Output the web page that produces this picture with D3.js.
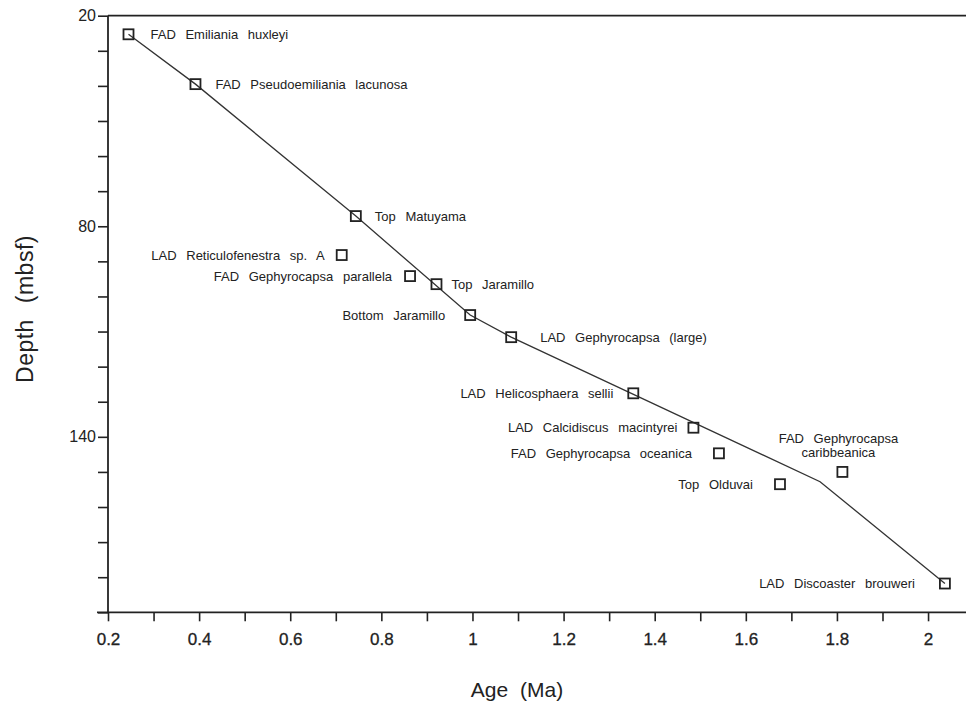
<!DOCTYPE html>
<html><head><meta charset="utf-8">
<script src="https://cdn.jsdelivr.net/npm/d3@7"></script>
<style>
body{margin:0;background:#fff;}
svg text{font-family:"Liberation Sans",Arial,Helvetica,sans-serif;fill:#222;}
</style></head>
<body>
<svg id="chart" width="966" height="705"></svg>
<script>
// datums
const datumNames = [
  "FAD Emiliania huxleyi",
  "FAD Pseudoemiliania lacunosa",
  "Top Matuyama",
  "LAD Reticulofenestra sp. A",
  "FAD Gephyrocapsa parallela",
  "Top Jaramillo",
  "Bottom Jaramillo",
  "LAD Gephyrocapsa (large)",
  "LAD Helicosphaera sellii",
  "LAD Calcidiscus macintyrei",
  "FAD Gephyrocapsa oceanica",
  "Top Olduvai",
  "FAD Gephyrocapsa caribbeanica",
  "LAD Discoaster brouweri"
];
const datumAges   = [0.245, 0.392, 0.744, 0.713, 0.863, 0.921, 0.995, 1.085, 1.353, 1.485, 1.541, 1.675, 1.812, 2.037];
const datumDepths = [25.3, 39.5, 77.1, 88.2, 94.2, 96.5, 105.3, 111.6, 127.6, 137.4, 144.7, 153.5, 150.0, 181.8];
// label side: "r" right, "l" left, "t" above (two lines)
const labelSides  = ["r","r","r","l","l","r","l","r","l","l","l","l","t","l"];

// age-depth (sedimentation rate) line
const lineAges   = [0.245, 0.392, 0.744, 0.995, 1.085, 1.763, 2.037];
const lineDepths = [25.3, 39.5, 77.1, 105.3, 111.6, 152.8, 181.8];

const xTicks = [0.2,0.3,0.4,0.5,0.6,0.7,0.8,0.9,1.0,1.1,1.2,1.3,1.4,1.5,1.6,1.7,1.8,1.9,2.0];
const xTickLabels = [0.2,0.4,0.6,0.8,1.0,1.2,1.4,1.6,1.8,2.0];
const yTicks = [20,30,40,50,60,70,80,90,100,110,120,130,140,150,160,170,180,190];
const yTickLabels = [20,80,140];

// layout only: horizontal gap between marker centre and its label (px)
const labelGap = [22, 20, 19, 17, 18, 15, 25, 29, 20, 16, 27, 27, 0, 30];

const svg = d3.select("#chart");
const x = d3.scaleLinear().domain([0.2, 2.0833]).range([108, 966]);
const y = d3.scaleLinear().domain([20, 190]).range([15.7, 612.3]);

const ink = "#222";

// top line
svg.append("line").attr("x1", x(0.2)).attr("x2", 966)
  .attr("y1", y(20)).attr("y2", y(20)).attr("stroke", ink).attr("stroke-width", 1.8);

// x axis
const xAxis = svg.append("g").attr("transform", `translate(0,${y(190)})`)
  .call(d3.axisBottom(x).tickValues(xTicks).tickSize(9).tickPadding(12)
    .tickFormat(d => xTickLabels.some(v => Math.abs(v - d) < 1e-9) ? d3.format("")(+d.toFixed(1)) : ""));
xAxis.select(".domain").remove();
svg.append("line").attr("x1", 97).attr("x2", 966).attr("y1", y(190)).attr("y2", y(190))
  .attr("stroke", ink).attr("stroke-width", 1.8);
xAxis.selectAll("line").attr("stroke", ink).attr("stroke-width", 1.6);
xAxis.selectAll("text").attr("font-size", 17).style("fill", ink)
  .attr("font-family", "Liberation Sans, Arial, sans-serif")
  .style("stroke", ink).style("stroke-width", 0.3);

// y axis
const yAxis = svg.append("g").attr("transform", `translate(${x(0.2)},0)`)
  .call(d3.axisLeft(y).tickValues(yTicks).tickSize(10).tickPadding(2)
    .tickFormat(d => yTickLabels.includes(d) ? d : ""));
yAxis.select(".domain").remove();
svg.append("line").attr("x1", x(0.2)).attr("x2", x(0.2)).attr("y1", y(20)).attr("y2", y(190))
  .attr("stroke", ink).attr("stroke-width", 1.8);
yAxis.selectAll("line").attr("stroke", ink).attr("stroke-width", 1.6);
yAxis.selectAll("text").attr("font-size", 16).style("fill", ink)
  .attr("font-family", "Liberation Sans, Arial, sans-serif");

// axis titles
svg.append("text").attr("x", 517).attr("y", 697).attr("text-anchor", "middle")
  .attr("font-size", 21).style("word-spacing", "6px").text("Age (Ma)");
svg.append("text").attr("transform", `translate(33,309) rotate(-90)`)
  .attr("text-anchor", "middle").attr("font-size", 23).style("word-spacing", "9px")
  .style("letter-spacing", "0.5px")
  .text("Depth (mbsf)");

// sedimentation line
const line = d3.line().x(d => x(d[0])).y(d => y(d[1]));
svg.append("path").datum(lineAges.map((a, i) => [a, lineDepths[i]]))
  .attr("d", line).attr("fill", "none").attr("stroke", "#333").attr("stroke-width", 1.3);

// markers
const pts = datumNames.map((n, i) => ({name: n, age: datumAges[i], depth: datumDepths[i], side: labelSides[i], gap: labelGap[i]}));
const s = 10;
svg.append("g").selectAll("rect").data(pts).join("rect")
  .attr("x", d => x(d.age) - s/2).attr("y", d => y(d.depth) - s/2)
  .attr("width", s).attr("height", s).attr("fill", "none")
  .attr("stroke", ink).attr("stroke-width", 1.8);

// labels
const lg = svg.append("g").attr("font-size", 13).style("word-spacing", "6px");
pts.forEach(d => {
  const cx = x(d.age), cy = y(d.depth);
  if (d.side === "r") {
    lg.append("text").attr("x", cx + d.gap).attr("y", cy + 4.5).text(d.name);
  } else if (d.side === "l") {
    lg.append("text").attr("x", cx - d.gap).attr("y", cy + 4.5).attr("text-anchor", "end").text(d.name);
  } else {
    const words = d.name.split(" ");
    const l1 = words.slice(0, 2).join(" "), l2 = words.slice(2).join(" ");
    lg.append("text").attr("x", cx - 4).attr("y", cy - 29).attr("text-anchor", "middle").text(l1);
    lg.append("text").attr("x", cx - 4).attr("y", cy - 15).attr("text-anchor", "middle").text(l2);
  }
});
</script>
</body></html>
